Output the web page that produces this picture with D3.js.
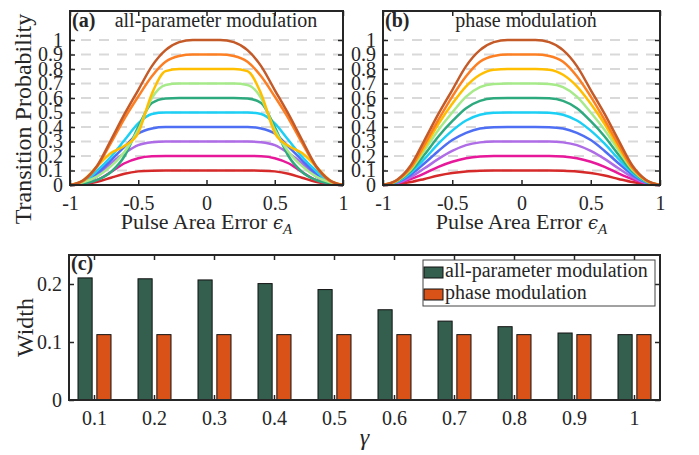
<!DOCTYPE html>
<html>
<head>
<meta charset="utf-8">
<script src="https://cdn.jsdelivr.net/npm/d3@7"></script>
<style>
  body { margin: 0; background: #fff; }
  svg text { font-family: "Liberation Serif", "Times New Roman", serif; fill: #262626; }
</style>
</head>
<body>
<div id="chart"></div>
<script>
// Datos
const epsA = [-1, -0.9, -0.8, -0.7, -0.6, -0.5, -0.4, -0.3, -0.2, -0.1, 0,
              0.1, 0.2, 0.3, 0.4, 0.5, 0.6, 0.7, 0.8, 0.9, 1];
const gammaLevels = [0.1, 0.2, 0.3, 0.4, 0.5, 0.6, 0.7, 0.8, 0.9, 1];
const lineColors = ["#d62a2a", "#e8189a", "#ae6ce6", "#4e6ff3", "#1ccff5",
                    "#2eaa7f", "#a6ea8a", "#ffbf00", "#fd7f23", "#c45a28"];

// (a) all-parameter modulation, one row per gamma
const allParamCurves = [
  [0, 0.005, 0.022, 0.05, 0.078, 0.094, 0.099, 0.1, 0.1, 0.1, 0.1, 0.1, 0.1, 0.1, 0.099, 0.094, 0.078, 0.05, 0.022, 0.005, 0],
  [0, 0.008, 0.035, 0.09, 0.15, 0.185, 0.198, 0.2, 0.2, 0.2, 0.2, 0.2, 0.2, 0.2, 0.198, 0.185, 0.15, 0.09, 0.035, 0.008, 0],
  [0, 0.01, 0.06, 0.15, 0.22, 0.275, 0.295, 0.3, 0.3, 0.3, 0.3, 0.3, 0.3, 0.3, 0.295, 0.275, 0.22, 0.15, 0.06, 0.01, 0],
  [0, 0.015, 0.08, 0.17, 0.265, 0.355, 0.39, 0.4, 0.4, 0.4, 0.4, 0.4, 0.4, 0.4, 0.39, 0.355, 0.265, 0.17, 0.08, 0.015, 0],
  [0, 0.02, 0.1, 0.195, 0.31, 0.425, 0.49, 0.5, 0.5, 0.5, 0.5, 0.5, 0.5, 0.5, 0.49, 0.425, 0.31, 0.195, 0.1, 0.02, 0],
  [0, 0.01, 0.035, 0.09, 0.2, 0.4, 0.565, 0.597, 0.6, 0.6, 0.6, 0.6, 0.6, 0.597, 0.565, 0.4, 0.2, 0.09, 0.035, 0.01, 0],
  [0, 0.02, 0.06, 0.13, 0.23, 0.38, 0.6, 0.69, 0.7, 0.7, 0.7, 0.7, 0.7, 0.69, 0.6, 0.38, 0.23, 0.13, 0.06, 0.02, 0],
  [0, 0.035, 0.13, 0.22, 0.27, 0.36, 0.63, 0.785, 0.8, 0.8, 0.8, 0.8, 0.8, 0.785, 0.63, 0.36, 0.27, 0.22, 0.13, 0.035, 0],
  [0, 0.03, 0.13, 0.29, 0.46, 0.61, 0.75, 0.85, 0.89, 0.9, 0.9, 0.9, 0.89, 0.85, 0.75, 0.61, 0.46, 0.29, 0.13, 0.03, 0],
  [0, 0.035, 0.135, 0.31, 0.49, 0.655, 0.82, 0.93, 0.985, 1, 1, 1, 0.985, 0.93, 0.82, 0.655, 0.49, 0.31, 0.135, 0.035, 0]
];

// (b) phase modulation, one row per gamma
const phaseCurves = [
  [0, 0.005, 0.02, 0.042, 0.065, 0.082, 0.093, 0.098, 0.1, 0.1, 0.1, 0.1, 0.1, 0.098, 0.093, 0.082, 0.065, 0.042, 0.02, 0.005, 0],
  [0, 0.01, 0.04, 0.08, 0.125, 0.16, 0.185, 0.197, 0.2, 0.2, 0.2, 0.2, 0.2, 0.197, 0.185, 0.16, 0.125, 0.08, 0.04, 0.01, 0],
  [0, 0.014, 0.055, 0.115, 0.18, 0.235, 0.275, 0.294, 0.3, 0.3, 0.3, 0.3, 0.3, 0.294, 0.275, 0.235, 0.18, 0.115, 0.055, 0.014, 0],
  [0, 0.018, 0.07, 0.15, 0.235, 0.31, 0.36, 0.39, 0.399, 0.4, 0.4, 0.4, 0.399, 0.39, 0.36, 0.31, 0.235, 0.15, 0.07, 0.018, 0],
  [0, 0.022, 0.085, 0.18, 0.285, 0.375, 0.445, 0.485, 0.498, 0.5, 0.5, 0.5, 0.498, 0.485, 0.445, 0.375, 0.285, 0.18, 0.085, 0.022, 0],
  [0, 0.025, 0.095, 0.21, 0.335, 0.44, 0.53, 0.58, 0.598, 0.6, 0.6, 0.6, 0.598, 0.58, 0.53, 0.44, 0.335, 0.21, 0.095, 0.025, 0],
  [0, 0.028, 0.105, 0.24, 0.38, 0.5, 0.61, 0.675, 0.697, 0.7, 0.7, 0.7, 0.697, 0.675, 0.61, 0.5, 0.38, 0.24, 0.105, 0.028, 0],
  [0, 0.03, 0.115, 0.26, 0.42, 0.56, 0.68, 0.76, 0.795, 0.8, 0.8, 0.8, 0.795, 0.76, 0.68, 0.56, 0.42, 0.26, 0.115, 0.03, 0],
  [0, 0.032, 0.12, 0.28, 0.45, 0.61, 0.75, 0.85, 0.89, 0.9, 0.9, 0.9, 0.89, 0.85, 0.75, 0.61, 0.45, 0.28, 0.12, 0.032, 0],
  [0, 0.035, 0.135, 0.31, 0.49, 0.655, 0.82, 0.93, 0.985, 1, 1, 1, 0.985, 0.93, 0.82, 0.655, 0.49, 0.31, 0.135, 0.035, 0]
];

// (c) widths
const gammaCats = ["0.1", "0.2", "0.3", "0.4", "0.5", "0.6", "0.7", "0.8", "0.9", "1"];
const widthAllParam = [0.2105, 0.209, 0.207, 0.2007, 0.1904, 0.1556, 0.136, 0.1264, 0.1155, 0.1127];
const widthPhase = [0.1127, 0.1127, 0.1127, 0.1127, 0.1127, 0.1127, 0.1127, 0.1127, 0.1127, 0.1127];
const seriesNames = ["all-parameter modulation", "phase modulation"];
const barColors = ["#345f4f", "#d95319"];

const probTicks = [0, 0.1, 0.2, 0.3, 0.4, 0.5, 0.6, 0.7, 0.8, 0.9, 1];
const epsTicks = [-1, -0.5, 0, 0.5, 1];
const widthTicks = [0, 0.1, 0.2];

// Configuración
const svgWidth = 699, svgHeight = 455;
const axisColor = "#262626";

const svg = d3.select("#chart")
    .append("svg")
    .attr("width", svgWidth)
    .attr("height", svgHeight);

const fmt = d => d === 0 ? "0" : d === 1 ? "1" : d === -1 ? "-1" : String(d);

function styleAxis(g, showLabels) {
    g.select(".domain").remove();
    g.selectAll(".tick line").attr("stroke", axisColor).attr("stroke-width", 1.5);
    g.selectAll("text")
        .attr("font-family", "Liberation Serif, serif")
        .attr("font-size", 20)
        .attr("fill", axisColor);
    if (!showLabels) g.selectAll("text").remove();
}

function curvePanel(left, right, data, label, title, titleX) {
    const x = d3.scaleLinear().domain([-1, 1]).range([left, right]);
    const y = d3.scaleLinear().domain([0, 1.2]).range([185, 11]);

    // lineas de referencia
    svg.append("g").selectAll("line")
        .data(probTicks.slice(1))
        .enter().append("line")
        .attr("x1", left).attr("x2", right)
        .attr("y1", d => y(d)).attr("y2", d => y(d))
        .attr("stroke", "#d9d9d9")
        .attr("stroke-width", 2)
        .attr("stroke-dasharray", "10,8")
        .attr("stroke-dashoffset", 7);

    const line = d3.line()
        .x((d, i) => x(epsA[i]))
        .y(d => y(d))
        .curve(d3.curveMonotoneX);

    svg.append("g").selectAll("path")
        .data(data)
        .enter().append("path")
        .attr("d", d => line(d))
        .attr("fill", "none")
        .attr("stroke", (d, i) => lineColors[i])
        .attr("stroke-width", 2.5);

    // Ejes
    svg.append("g").attr("transform", `translate(${left},0)`)
        .call(d3.axisLeft(y).tickValues(probTicks).tickFormat(fmt).tickSize(-5).tickPadding(7))
        .call(g => styleAxis(g, true));
    svg.append("g").attr("transform", `translate(${right},0)`)
        .call(d3.axisRight(y).tickValues(probTicks).tickSize(-5))
        .call(g => styleAxis(g, false));
    svg.append("g").attr("transform", "translate(0,185)")
        .call(d3.axisBottom(x).tickValues(epsTicks).tickFormat(fmt).tickSize(-5).tickPadding(11))
        .call(g => styleAxis(g, true));
    svg.append("g").attr("transform", "translate(0,11)")
        .call(d3.axisTop(x).tickValues(epsTicks).tickSize(-5))
        .call(g => styleAxis(g, false));

    svg.append("rect")
        .attr("x", left).attr("y", 11)
        .attr("width", right - left).attr("height", 174)
        .attr("fill", "none").attr("stroke", axisColor).attr("stroke-width", 2);

    svg.append("text")
        .attr("x", left + 2).attr("y", 27)
        .attr("font-size", 20).attr("font-weight", "bold")
        .text(label);
    svg.append("text")
        .attr("x", titleX).attr("y", 27)
        .attr("text-anchor", "middle")
        .attr("font-size", 20)
        .text(title);

    const xl = svg.append("text")
        .attr("x", (left + right) / 2).attr("y", 229)
        .attr("text-anchor", "middle")
        .attr("font-size", 22);
    xl.append("tspan").text("Pulse Area Error ");
    xl.append("tspan").attr("font-style", "italic").attr("font-family", "DejaVu Serif, serif").attr("font-size", 18).text("ϵ");
    xl.append("tspan").attr("font-style", "italic").attr("font-size", 15).attr("dy", 5).text("A");
}

curvePanel(70, 343, allParamCurves, "(a)", "all-parameter modulation", 216);
curvePanel(383, 660, phaseCurves, "(b)", "phase modulation", 526);

svg.append("text")
    .attr("transform", "translate(31,119) rotate(-90)")
    .attr("text-anchor", "middle")
    .attr("font-size", 24)
    .text("Transition Probability");

// (c) barras
const cLeft = 69, cRight = 660, cTop = 255, cBottom = 400;

const x0 = d3.scaleBand()
    .domain(gammaCats)
    .range([cLeft, cRight])
    .paddingInner(0.45)
    .paddingOuter(0.15);

const x1 = d3.scaleBand()
    .domain([0, 1])
    .range([0, x0.bandwidth()])
    .paddingInner(0.25);

const yW = d3.scaleLinear().domain([0, 0.25]).range([cBottom, cTop]);

const barData = gammaCats.map((c, i) => ({ cat: c, values: [widthAllParam[i], widthPhase[i]] }));

svg.append("g").selectAll("g")
    .data(barData)
    .enter().append("g")
    .attr("transform", d => `translate(${x0(d.cat)},0)`)
    .selectAll("rect")
    .data(d => d.values.map((v, k) => ({ k, v })))
    .enter().append("rect")
    .attr("x", d => x1(d.k))
    .attr("y", d => yW(d.v))
    .attr("width", x1.bandwidth())
    .attr("height", d => cBottom - yW(d.v))
    .attr("fill", d => barColors[d.k])
    .attr("stroke", "#111")
    .attr("stroke-width", 1);

svg.append("g").attr("transform", `translate(${cLeft},0)`)
    .call(d3.axisLeft(yW).tickValues(widthTicks).tickFormat(fmt).tickSize(-5).tickPadding(7))
    .call(g => styleAxis(g, true));
svg.append("g").attr("transform", `translate(${cRight},0)`)
    .call(d3.axisRight(yW).tickValues(widthTicks).tickSize(-5))
    .call(g => styleAxis(g, false));
svg.append("g").attr("transform", `translate(0,${cBottom})`)
    .call(d3.axisBottom(x0).tickSize(-5).tickPadding(11))
    .call(g => styleAxis(g, true));
svg.append("g").attr("transform", `translate(0,${cTop})`)
    .call(d3.axisTop(x0).tickSize(-5))
    .call(g => styleAxis(g, false));

svg.append("rect")
    .attr("x", cLeft).attr("y", cTop)
    .attr("width", cRight - cLeft).attr("height", cBottom - cTop)
    .attr("fill", "none").attr("stroke", axisColor).attr("stroke-width", 2);

svg.append("text")
    .attr("x", cLeft + 2).attr("y", 270)
    .attr("font-size", 20).attr("font-weight", "bold")
    .text("(c)");

svg.append("text")
    .attr("transform", `translate(33,${(cTop + cBottom) / 2}) rotate(-90)`)
    .attr("text-anchor", "middle")
    .attr("font-size", 24)
    .text("Width");

svg.append("text")
    .attr("x", (cLeft + cRight) / 2).attr("y", 445)
    .attr("text-anchor", "middle")
    .attr("font-size", 24)
    .attr("font-style", "italic")
    .text("γ");

// Leyenda
const legend = svg.append("g");
legend.append("rect")
    .attr("x", 423).attr("y", 260)
    .attr("width", 232).attr("height", 46)
    .attr("fill", "#fff").attr("stroke", "#444").attr("stroke-width", 1);

const items = legend.selectAll("g")
    .data(seriesNames)
    .enter().append("g")
    .attr("transform", (d, i) => `translate(424,${267 + i * 22})`);

items.append("rect")
    .attr("width", 19).attr("height", 11)
    .attr("fill", (d, i) => barColors[i])
    .attr("stroke", "#111").attr("stroke-width", 1);

items.append("text")
    .attr("x", 21).attr("y", 10)
    .attr("font-size", 20)
    .text(d => d);
</script>
</body>
</html>
